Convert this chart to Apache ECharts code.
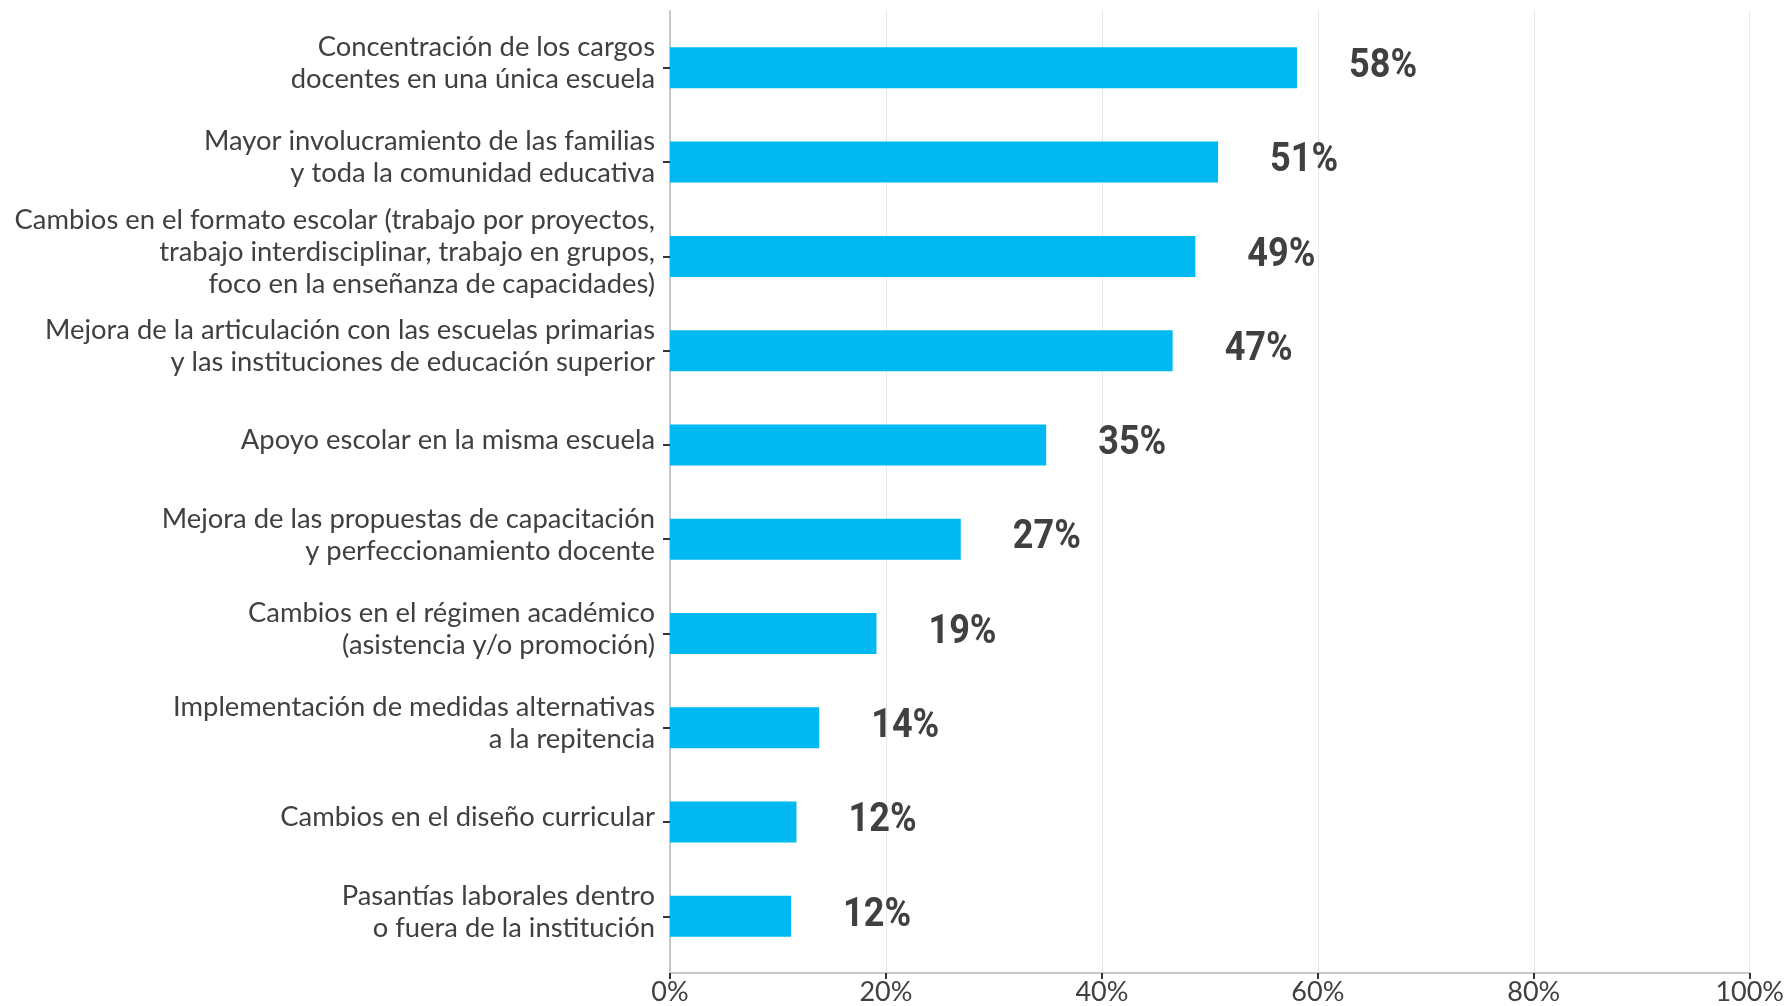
<!DOCTYPE html>
<html>
<head>
<meta charset="utf-8">
<script src="https://cdn.jsdelivr.net/npm/echarts@6/dist/echarts.min.js"></script>
<style>
  html, body { margin: 0; padding: 0; background: #fff; }
  #chart { width: 1787px; height: 1006px; }
</style>
</head>
<body>
<div id="chart"></div>
<script>
var categories = [
  'Concentración de los cargos\ndocentes en una única escuela',
  'Mayor involucramiento de las familias\ny toda la comunidad educativa',
  'Cambios en el formato escolar (trabajo por proyectos,\ntrabajo interdisciplinar, trabajo en grupos,\nfoco en la enseñanza de capacidades)',
  'Mejora de la articulación con las escuelas primarias\ny las instituciones de educación superior',
  'Apoyo escolar en la misma escuela',
  'Mejora de las propuestas de capacitación\ny perfeccionamiento docente',
  'Cambios en el régimen académico\n(asistencia y/o promoción)',
  'Implementación de medidas alternativas\na la repitencia',
  'Cambios en el diseño curricular',
  'Pasantías laborales dentro\no fuera de la institución'
];
// bar lengths (percent)
var values = [58.0, 50.7, 48.6, 46.5, 34.8, 26.9, 19.1, 13.8, 11.7, 11.2];
// percentages printed next to the bars
var shown = [58, 51, 49, 47, 35, 27, 19, 14, 12, 12];
var xTicks = [0, 20, 40, 60, 80, 100];

var textColor = '#404040';
var labelFont = 'Lato, "Open Sans", sans-serif';

(function () {
  var myChart = echarts.init(document.getElementById('chart'));

  var labelData = values.map(function (v, i) { return [v, i]; });

  var option = {
    animation: false,
    backgroundColor: '#ffffff',
    grid: [
      // frame: gridlines and axes
      { left: 670, right: 36, top: 11, bottom: 33, containLabel: false },
      // bars
      { left: 670, right: 36, top: 20.7, bottom: 42.6, containLabel: false }
    ],
    xAxis: [
      {
        gridIndex: 0,
        type: 'value',
        min: xTicks[0],
        max: xTicks[xTicks.length - 1],
        interval: 20,
        axisLine: { show: true, lineStyle: { color: '#c8c8c8', width: 2 } },
        axisTick: { show: true, length: 6, lineStyle: { color: '#333', width: 2 } },
        splitLine: { show: true, lineStyle: { color: '#e8e8e8', width: 1 } },
        axisLabel: {
          margin: 6,
          color: textColor,
          fontFamily: labelFont,
          fontSize: 27,
          formatter: function (v) { return v + '%'; }
        }
      },
      {
        gridIndex: 1,
        type: 'value',
        min: 0,
        max: 100,
        show: false
      }
    ],
    yAxis: [
      {
        gridIndex: 0,
        type: 'value',
        min: 0,
        max: 1,
        axisLine: { show: true, lineStyle: { color: '#c8c8c8', width: 2 } },
        axisTick: { show: false },
        axisLabel: { show: false },
        splitLine: { show: false }
      },
      {
        gridIndex: 1,
        type: 'category',
        inverse: true,
        data: categories,
        axisLine: { show: false },
        axisTick: { show: true, alignWithLabel: true, length: 7, lineStyle: { color: '#333', width: 2 } },
        axisLabel: {
          margin: 15,
          color: textColor,
          fontFamily: labelFont,
          fontSize: 27.4,
          lineHeight: 32,
          align: 'right',
          // an empty short line underneath lifts the text a little above the tick
          formatter: function (v) { return v + '\n{gap| }'; },
          rich: { gap: { fontSize: 1, lineHeight: 9 } }
        }
      }
    ],
    series: [
      {
        type: 'bar',
        xAxisIndex: 1,
        yAxisIndex: 1,
        data: values,
        barWidth: 41,
        itemStyle: { color: '#00b9f1' }
      },
      {
        // condensed bold value labels
        type: 'custom',
        xAxisIndex: 1,
        yAxisIndex: 1,
        data: labelData,
        silent: true,
        renderItem: function (params, api) {
          var p = api.coord([api.value(0), api.value(1)]);
          return {
            type: 'text',
            x: p[0] + 52,
            y: p[1] - 1,
            scaleX: 0.88,
            style: {
              text: shown[params.dataIndex] + '%',
              fill: textColor,
              font: 'bold 41px Roboto, sans-serif',
              verticalAlign: 'middle',
              align: 'left'
            }
          };
        }
      }
    ]
  };
  myChart.setOption(option);
  window.addEventListener('resize', function () {
    myChart.resize();
  });
})();
</script>
</body>
</html>
